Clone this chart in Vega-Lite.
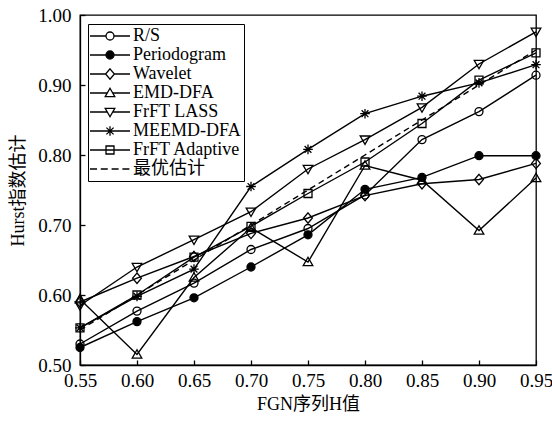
{
  "$schema": "https://vega.github.io/schema/vega-lite/v6.json",
  "width": 456,
  "height": 350,
  "autosize": {"type": "none"},
  "padding": {"left": 80, "top": 15, "right": 16, "bottom": 56},
  "background": "white",
  "config": {
    "view": {"stroke": "black", "strokeWidth": 1.3},
    "axis": {
      "domainColor": "black", "domainWidth": 1.3,
      "tickColor": "black", "tickWidth": 1.3, "tickSize": -5,
      "labelColor": "black", "labelFont": "Liberation Serif", "labelFontSize": 19,
      "titleColor": "black", "titleFont": "Liberation Serif, Noto Sans CJK SC", "titleFontSize": 18, "titleFontWeight": "normal",
      "grid": false, "labelFlush": false, "labelOverlap": false, "labelBound": false
    }
  },
  "data": {"values": [
    {"h": 0.55, "series": "R/S", "v": 0.530}, {"h": 0.60, "series": "R/S", "v": 0.577}, {"h": 0.65, "series": "R/S", "v": 0.617},
    {"h": 0.70, "series": "R/S", "v": 0.665}, {"h": 0.75, "series": "R/S", "v": 0.695}, {"h": 0.80, "series": "R/S", "v": 0.743},
    {"h": 0.85, "series": "R/S", "v": 0.822}, {"h": 0.90, "series": "R/S", "v": 0.862}, {"h": 0.95, "series": "R/S", "v": 0.914},
    {"h": 0.55, "series": "Periodogram", "v": 0.525}, {"h": 0.60, "series": "Periodogram", "v": 0.562}, {"h": 0.65, "series": "Periodogram", "v": 0.596},
    {"h": 0.70, "series": "Periodogram", "v": 0.640}, {"h": 0.75, "series": "Periodogram", "v": 0.686}, {"h": 0.80, "series": "Periodogram", "v": 0.751},
    {"h": 0.85, "series": "Periodogram", "v": 0.768}, {"h": 0.90, "series": "Periodogram", "v": 0.799}, {"h": 0.95, "series": "Periodogram", "v": 0.799},
    {"h": 0.55, "series": "Wavelet", "v": 0.590}, {"h": 0.60, "series": "Wavelet", "v": 0.624}, {"h": 0.65, "series": "Wavelet", "v": 0.655},
    {"h": 0.70, "series": "Wavelet", "v": 0.688}, {"h": 0.75, "series": "Wavelet", "v": 0.710}, {"h": 0.80, "series": "Wavelet", "v": 0.742},
    {"h": 0.85, "series": "Wavelet", "v": 0.759}, {"h": 0.90, "series": "Wavelet", "v": 0.765}, {"h": 0.95, "series": "Wavelet", "v": 0.788},
    {"h": 0.55, "series": "EMD-DFA", "v": 0.594}, {"h": 0.60, "series": "EMD-DFA", "v": 0.515}, {"h": 0.65, "series": "EMD-DFA", "v": 0.625},
    {"h": 0.70, "series": "EMD-DFA", "v": 0.696}, {"h": 0.75, "series": "EMD-DFA", "v": 0.647}, {"h": 0.80, "series": "EMD-DFA", "v": 0.785},
    {"h": 0.85, "series": "EMD-DFA", "v": 0.764}, {"h": 0.90, "series": "EMD-DFA", "v": 0.692}, {"h": 0.95, "series": "EMD-DFA", "v": 0.767},
    {"h": 0.55, "series": "FrFT LASS", "v": 0.585}, {"h": 0.60, "series": "FrFT LASS", "v": 0.640}, {"h": 0.65, "series": "FrFT LASS", "v": 0.679},
    {"h": 0.70, "series": "FrFT LASS", "v": 0.719}, {"h": 0.75, "series": "FrFT LASS", "v": 0.780}, {"h": 0.80, "series": "FrFT LASS", "v": 0.822},
    {"h": 0.85, "series": "FrFT LASS", "v": 0.868}, {"h": 0.90, "series": "FrFT LASS", "v": 0.930}, {"h": 0.95, "series": "FrFT LASS", "v": 0.976},
    {"h": 0.55, "series": "MEEMD-DFA", "v": 0.553}, {"h": 0.60, "series": "MEEMD-DFA", "v": 0.598}, {"h": 0.65, "series": "MEEMD-DFA", "v": 0.637},
    {"h": 0.70, "series": "MEEMD-DFA", "v": 0.755}, {"h": 0.75, "series": "MEEMD-DFA", "v": 0.808}, {"h": 0.80, "series": "MEEMD-DFA", "v": 0.859},
    {"h": 0.85, "series": "MEEMD-DFA", "v": 0.884}, {"h": 0.90, "series": "MEEMD-DFA", "v": 0.903}, {"h": 0.95, "series": "MEEMD-DFA", "v": 0.929},
    {"h": 0.55, "series": "FrFT Adaptive", "v": 0.553}, {"h": 0.60, "series": "FrFT Adaptive", "v": 0.600}, {"h": 0.65, "series": "FrFT Adaptive", "v": 0.654},
    {"h": 0.70, "series": "FrFT Adaptive", "v": 0.698}, {"h": 0.75, "series": "FrFT Adaptive", "v": 0.745}, {"h": 0.80, "series": "FrFT Adaptive", "v": 0.790},
    {"h": 0.85, "series": "FrFT Adaptive", "v": 0.845}, {"h": 0.90, "series": "FrFT Adaptive", "v": 0.907}, {"h": 0.95, "series": "FrFT Adaptive", "v": 0.946},
    {"h": 0.55, "series": "最优估计", "v": 0.55}, {"h": 0.60, "series": "最优估计", "v": 0.60}, {"h": 0.65, "series": "最优估计", "v": 0.65},
    {"h": 0.70, "series": "最优估计", "v": 0.70}, {"h": 0.75, "series": "最优估计", "v": 0.75}, {"h": 0.80, "series": "最优估计", "v": 0.80},
    {"h": 0.85, "series": "最优估计", "v": 0.85}, {"h": 0.90, "series": "最优估计", "v": 0.90}, {"h": 0.95, "series": "最优估计", "v": 0.95}
  ]},
  "layer": [
    {
      "transform": [{"filter": "datum.series !== '最优估计'"}],
      "mark": {"type": "line", "color": "black", "strokeWidth": 1.4},
      "encoding": {
        "x": {"field": "h", "type": "quantitative", "scale": {"domain": [0.55, 0.95], "nice": false, "zero": false},
              "axis": {"values": [0.55, 0.6, 0.65, 0.7, 0.75, 0.8, 0.85, 0.9, 0.95], "format": ".2f", "title": "FGN序列H值", "labelPadding": 11, "titlePadding": 5}},
        "y": {"field": "v", "type": "quantitative", "scale": {"domain": [0.5, 1.0], "nice": false, "zero": false},
              "axis": {"values": [0.5, 0.55, 0.6, 0.65, 0.7, 0.75, 0.8, 0.85, 0.9, 0.95, 1.0], "format": ".2f", "title": "Hurst指数估计", "labelPadding": 14, "titlePadding": 10}},
        "detail": {"field": "series", "type": "nominal"}
      }
    },
    {
      "transform": [{"filter": "datum.series === '最优估计'"}],
      "mark": {"type": "line", "color": "black", "strokeWidth": 1.4, "strokeDash": [6, 4]},
      "encoding": {
        "x": {"field": "h", "type": "quantitative"},
        "y": {"field": "v", "type": "quantitative"}
      }
    },
    {
      "transform": [{"filter": "datum.series !== '最优估计'"}],
      "mark": {"type": "point", "filled": true, "stroke": "black", "strokeWidth": 1.3, "size": 64, "opacity": 1},
      "encoding": {
        "x": {"field": "h", "type": "quantitative"},
        "y": {"field": "v", "type": "quantitative"},
        "shape": {"field": "series", "type": "nominal", "legend": null,
          "scale": {"domain": ["R/S", "Periodogram", "Wavelet", "EMD-DFA", "FrFT LASS", "MEEMD-DFA", "FrFT Adaptive"],
            "range": [
              "M-1,0A1,1,0,1,1,1,0A1,1,0,1,1,-1,0Z",
              "M-1,0A1,1,0,1,1,1,0A1,1,0,1,1,-1,0Z",
              "M0,-1.3L1.1,0L0,1.3L-1.1,0Z",
              "M0,-1.2L1.2,0.9L-1.2,0.9Z",
              "M0,1.2L1.2,-0.9L-1.2,-0.9Z",
              "M-1.2,0H1.2M0,-1.2V1.2M-0.85,-0.85L0.85,0.85M-0.85,0.85L0.85,-0.85",
              "M-1,-1H1V1H-1Z"
            ]}},
        "fill": {"field": "series", "type": "nominal", "legend": null,
          "scale": {"domain": ["R/S", "Periodogram", "Wavelet", "EMD-DFA", "FrFT LASS", "MEEMD-DFA", "FrFT Adaptive"],
            "range": ["transparent", "black", "transparent", "transparent", "transparent", "transparent", "transparent"]}}
      }
    },
    {
      "transform": [{"filter": "datum.v > 2"}],
      "mark": {"type": "point", "filled": false, "color": "black", "strokeWidth": 1.3, "opacity": 1},
      "encoding": {
        "shape": {"field": "series", "type": "nominal",
          "legend": {"orient": "none", "legendX": 8, "legendY": 9, "title": null,
            "strokeColor": "black", "fillColor": "white", "padding": 3,
            "symbolSize": 64, "symbolStrokeWidth": 1.3, "symbolStrokeColor": "black", "symbolOpacity": 1,
            "labelFont": "Liberation Serif, Noto Sans CJK SC", "labelFontSize": 18, "labelColor": "black",
            "labelOffset": 24, "rowPadding": 1, "labelLimit": 0},
          "scale": {"domain": ["R/S", "Periodogram", "Wavelet", "EMD-DFA", "FrFT LASS", "MEEMD-DFA", "FrFT Adaptive", "最优估计"],
            "range": [
              "M-2.5,0H1.5M3.5,0H7.5M1.5,0A1,1,0,1,1,3.5,0A1,1,0,1,1,1.5,0Z",
              "M-2.5,0H1.5M3.5,0H7.5M1.5,0A1,1,0,1,1,3.5,0A1,1,0,1,1,1.5,0Z",
              "M-2.5,0H1.4M3.6,0H7.5M2.5,-1.3L3.6,0L2.5,1.3L1.4,0Z",
              "M-2.5,0H1.81M3.19,0H7.5M2.5,-1.2L3.7,0.9L1.3,0.9Z",
              "M-2.5,0H1.81M3.19,0H7.5M2.5,1.2L3.7,-0.9L1.3,-0.9Z",
              "M-2.5,0H7.5M2.5,-1.2V1.2M1.6,-0.85L3.4,0.85M1.6,0.85L3.4,-0.85",
              "M-2.5,0H7.5M1.5,-1H3.5V1H1.5Z",
              "M-2.5,0H-0.75M0.2,0H1.95M2.9,0H4.65M5.6,0H7.35"
            ]}},
        "fill": {"field": "series", "type": "nominal",
          "legend": {"orient": "none", "legendX": 8, "legendY": 9, "title": null},
          "scale": {"domain": ["R/S", "Periodogram", "Wavelet", "EMD-DFA", "FrFT LASS", "MEEMD-DFA", "FrFT Adaptive", "最优估计"],
            "range": ["white", "black", "white", "white", "white", "white", "white", "white"]}},
        "stroke": {"field": "series", "type": "nominal",
          "legend": {"orient": "none", "legendX": 8, "legendY": 9, "title": null},
          "scale": {"domain": ["R/S", "Periodogram", "Wavelet", "EMD-DFA", "FrFT LASS", "MEEMD-DFA", "FrFT Adaptive", "最优估计"],
            "range": ["black", "black", "black", "black", "black", "black", "black", "black"]}}
      }
    }
  ],
  "resolve": {"scale": {"shape": "independent", "fill": "independent", "stroke": "independent"}}
}
